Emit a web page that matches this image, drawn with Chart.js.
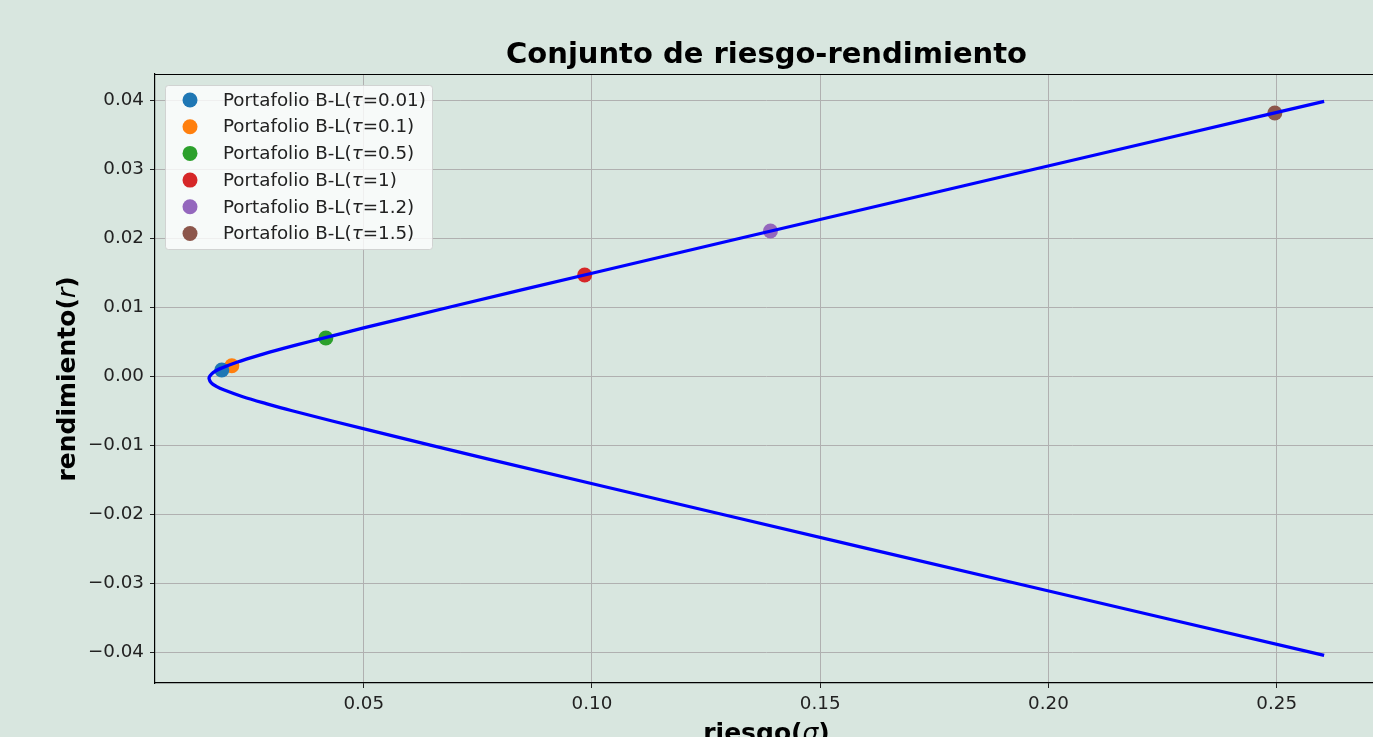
<!DOCTYPE html>
<html>
<head>
<meta charset="utf-8">
<script src="https://cdn.jsdelivr.net/npm/chart.js@4.4.1/dist/chart.umd.min.js"></script>
<style>
  html, body { margin: 0; padding: 0; background: #d8e6df; overflow: hidden; }
  #wrap { width: 1373px; height: 737px; overflow: hidden; }
  canvas { display: block; }
</style>
</head>
<body>
<div id="wrap"><canvas id="c" width="1400" height="737"></canvas></div>
<script>
// ---- Data ----
const chartTitle = 'Conjunto de riesgo-rendimiento';
const xTitleMain = 'riesgo(';
const xTitleSym = 'σ';
const yTitleMain = 'rendimiento(';
const yTitleSym = 'r';

// Efficient frontier curve (riesgo σ, rendimiento r)
const frontierRisk = [0.2604, 0.2294, 0.1971, 0.1649, 0.1327, 0.1007, 0.0689, 0.0502, 0.0382, 0.0324, 0.0270, 0.0222, 0.0183, 0.0170, 0.0163, 0.0161, 0.0166, 0.0177, 0.0193, 0.0235, 0.0286, 0.0341, 0.0521, 0.0771, 0.1282, 0.1926, 0.2604];
const frontierReturn = [0.0398, 0.0350, 0.0300, 0.0250, 0.0200, 0.0150, 0.0100, 0.0070, 0.0050, 0.0040, 0.0030, 0.0020, 0.0010, 0.0005, 0.0000, -0.00035, -0.0010, -0.0015, -0.0020, -0.0030, -0.0040, -0.0050, -0.0080, -0.0120, -0.0200, -0.0300, -0.0405];

// Black-Litterman portfolios
const tauValues = ['0.01', '0.1', '0.5', '1', '1.2', '1.5'];
const portRisk = [0.0189, 0.0211, 0.0417, 0.0984, 0.1391, 0.2496];
const portReturn = [0.00087, 0.00149, 0.00551, 0.01464, 0.02101, 0.03812];
const portColors = ['#1f77b4', '#ff7f0e', '#2ca02c', '#d62728', '#9467bd', '#8c564b'];

const xTickValues = [0.05, 0.10, 0.15, 0.20, 0.25];
const xTickLabels = ['0.05', '0.10', '0.15', '0.20', '0.25'];
const yTickValues = [-0.04, -0.03, -0.02, -0.01, 0.00, 0.01, 0.02, 0.03, 0.04];
const yTickLabels = ['−0.04', '−0.03', '−0.02', '−0.01', '0.00', '0.01', '0.02', '0.03', '0.04'];

// ---- Build datasets ----
const datasets = [];
datasets.push({
  type: 'line',
  label: 'frontera',
  data: frontierRisk.map((x, i) => ({ x: x, y: frontierReturn[i] })),
  borderColor: '#0000ff',
  borderWidth: 3.3,
  pointRadius: 0,
  showLine: true,
  fill: false,
  tension: 0.35,
  order: 0
});
tauValues.forEach((t, i) => {
  datasets.push({
    type: 'scatter',
    label: 'Portafolio B-L(τ=' + t + ')',
    data: [{ x: portRisk[i], y: portReturn[i] }],
    backgroundColor: portColors[i],
    borderColor: portColors[i],
    pointRadius: 7.5,
    pointBorderWidth: 0,
    order: 1,
    isPortfolio: true
  });
});

const FONT = "'DejaVu Sans', sans-serif";
const TEXT = '#222222';
const TICK_SIZE = 18.3;

const decorPlugin = {
  id: 'decor',
  beforeDraw(chart) {
    const ctx = chart.ctx;
    ctx.save();
    ctx.fillStyle = '#d8e6df';
    ctx.fillRect(0, 0, chart.width, chart.height);
    ctx.restore();
  },
  afterDraw(chart) {
    const ctx = chart.ctx;
    const a = chart.chartArea;
    ctx.save();
    // top spine
    ctx.strokeStyle = '#000';
    ctx.lineWidth = 1.2;
    ctx.beginPath();
    ctx.moveTo(a.left, a.top + 0.5);
    ctx.lineTo(a.right, a.top + 0.5);
    ctx.stroke();

    // title
    ctx.fillStyle = '#000';
    ctx.font = 'bold 29px ' + FONT;
    ctx.textAlign = 'center';
    ctx.textBaseline = 'alphabetic';
    ctx.fillText(chartTitle, (a.left + a.right) / 2, 63);

    // axis titles: bold text + italic symbol
    function mixed(main, sym, cx, cy) {
      ctx.font = 'bold 25px ' + FONT;
      const w1 = ctx.measureText(main).width;
      const w3 = ctx.measureText(')').width;
      ctx.font = 'italic 25px ' + FONT;
      const w2 = ctx.measureText(sym).width;
      const total = w1 + w2 + w3;
      let x = cx - total / 2;
      ctx.textAlign = 'left';
      ctx.font = 'bold 25px ' + FONT;
      ctx.fillText(main, x, cy);
      x += w1;
      ctx.font = 'italic 25px ' + FONT;
      ctx.fillText(sym, x, cy);
      x += w2;
      ctx.font = 'bold 25px ' + FONT;
      ctx.fillText(')', x, cy);
    }
    ctx.fillStyle = '#000';
    mixed(xTitleMain, xTitleSym, (a.left + a.right) / 2, 741);
    ctx.save();
    ctx.translate(75, 379);
    ctx.rotate(-Math.PI / 2);
    mixed(yTitleMain, yTitleSym, 0, 0);
    ctx.restore();

    // legend
    const items = chart.data.datasets.filter(d => d.isPortfolio);
    const bx = 165.5, by = 85.5, bw = 267, bh = 164;
    ctx.fillStyle = 'rgba(255,255,255,0.8)';
    ctx.strokeStyle = 'rgba(204,204,204,0.8)';
    ctx.lineWidth = 1;
    ctx.beginPath();
    ctx.roundRect(bx, by, bw, bh, 3);
    ctx.fill();
    ctx.stroke();
    ctx.textBaseline = 'middle';
    items.forEach((d, i) => {
      const cy = 100 + i * 26.7;
      ctx.fillStyle = d.backgroundColor;
      ctx.beginPath();
      ctx.arc(190, cy, 7.5, 0, Math.PI * 2);
      ctx.fill();
      const parts = d.label.split('τ');
      let x = 223;
      ctx.fillStyle = TEXT;
      ctx.textAlign = 'left';
      ctx.font = '18.3px ' + FONT;
      ctx.fillText(parts[0], x, cy + 1);
      x += ctx.measureText(parts[0]).width;
      ctx.font = 'italic 18.3px ' + FONT;
      ctx.fillText('τ', x, cy + 1);
      x += ctx.measureText('τ').width;
      ctx.font = '18.3px ' + FONT;
      ctx.fillText(parts[1], x, cy + 1);
    });
    ctx.restore();
  }
};

new Chart(document.getElementById('c'), {
  type: 'scatter',
  data: { datasets: datasets },
  options: {
    responsive: false,
    animation: false,
    devicePixelRatio: 1,
    layout: { padding: { left: 0, top: 74, right: 22, bottom: 0 } },
    plugins: {
      legend: { display: false },
      title: { display: false },
      tooltip: { enabled: false }
    },
    scales: {
      x: {
        type: 'linear',
        min: 0.00427,
        max: 0.2722,
        afterBuildTicks: s => { s.ticks = xTickValues.map(v => ({ value: v })); },
        afterFit: s => { s.height = 54; },
        grid: { color: '#b0b0b0', lineWidth: 1, tickColor: '#222', tickLength: 5, drawTicks: true },
        border: { display: true, color: '#000', width: 1.2 },
        ticks: {
          padding: 5,
          color: TEXT,
          font: { family: FONT, size: TICK_SIZE },
          callback: (v) => { const i = xTickValues.findIndex(t => Math.abs(t - v) < 1e-9); return i >= 0 ? xTickLabels[i] : ''; }
        }
      },
      y: {
        type: 'linear',
        min: -0.04449,
        max: 0.04377,
        afterBuildTicks: s => { s.ticks = yTickValues.map(v => ({ value: v })); },
        afterFit: s => { s.width = 155; },
        grid: { color: '#b0b0b0', lineWidth: 1, tickColor: '#222', tickLength: 5, drawTicks: true },
        border: { display: true, color: '#000', width: 1.2 },
        ticks: {
          padding: 6,
          color: TEXT,
          font: { family: FONT, size: TICK_SIZE },
          callback: (v) => { const i = yTickValues.findIndex(t => Math.abs(t - v) < 1e-9); return i >= 0 ? yTickLabels[i] : ''; }
        }
      }
    }
  },
  plugins: [decorPlugin]
});
</script>
</body>
</html>
